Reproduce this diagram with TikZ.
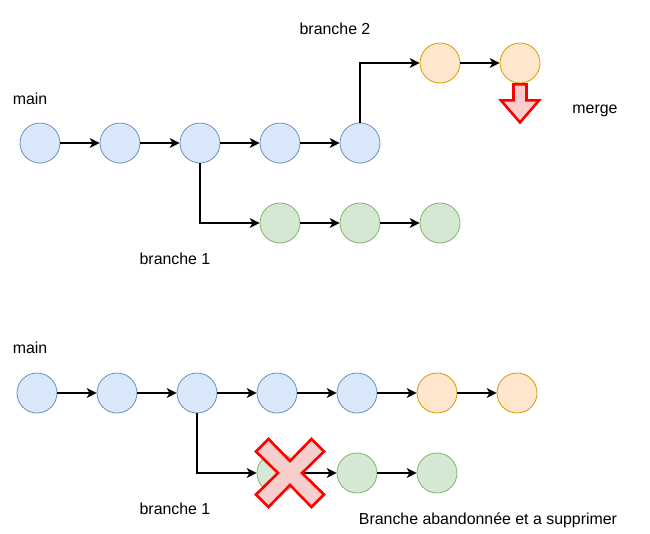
\documentclass[tikz,border=0pt]{standalone}
\usepackage{fontspec}
\setmainfont{Liberation Sans}
\usetikzlibrary{arrows.meta}
\definecolor{gitBlueFill}{HTML}{DAE8FC}
\definecolor{gitBlueLine}{HTML}{6C8EBF}
\definecolor{gitOrangeFill}{HTML}{FFE6CC}
\definecolor{gitOrangeLine}{HTML}{D79B00}
\definecolor{gitGreenFill}{HTML}{D5E8D4}
\definecolor{gitGreenLine}{HTML}{82B366}
\definecolor{gitRed}{HTML}{FF0000}
\definecolor{gitRedFill}{HTML}{F8CECC}
\tikzset{
  commit/.style   = {circle, minimum size=40pt, inner sep=0pt, line width=0.8pt},
  mainc/.style    = {commit, fill=gitBlueFill, draw=gitBlueLine},
  featc/.style    = {commit, fill=gitOrangeFill, draw=gitOrangeLine},
  fixc/.style     = {commit, fill=gitGreenFill, draw=gitGreenLine},
  link/.style     = {-{Stealth[length=10pt, width=10pt, inset=3pt]}, line width=1.3pt, black},
  lbl/.style      = {font=\fontsize{15.9}{18}\selectfont, inner sep=0pt,
                     text height=0.72em, text depth=0.2em, yshift=-3.5pt},
  warn/.style     = {draw=gitRed, fill=gitRedFill, line width=2.6pt, line join=miter},
}

\begin{document}
\begin{tikzpicture}[x=1pt, y=-1pt]
  \useasboundingbox (0,0) rectangle (650,533);

  % top: main with two branches
  \foreach \i/\x in {1/40, 2/120, 3/200, 4/280, 5/360}
    \node[mainc] (ta\i) at (\x,143) {};
  \node[featc] (tb1) at (440,63) {};
  \node[featc] (tb2) at (520,63) {};
  \foreach \i/\x in {1/280, 2/360, 3/440}
    \node[fixc] (tc\i) at (\x,223) {};

  \foreach \a/\b in {ta1/ta2, ta2/ta3, ta3/ta4, ta4/ta5, tb1/tb2, tc1/tc2, tc2/tc3}
    \draw[link] (\a) -- (\b);
  \draw[link] (ta5.north) |- (tb1.west);
  \draw[link] (ta3.south) |- (tc1.west);

  % the merge arrow
  \draw[warn, shift={(tb2.south)}]
    (-6.5,1) -- (6.5,1) -- (6.5,17) -- (19,17) -- (0,39) -- (-19,17) -- (-6.5,17) -- cycle;

  \node[lbl] (tmain) at (30,98) {main};
  \node[lbl] (tbr2) at (335,28) {branche 2};
  \node[lbl] (tmerge) at (595,107) {merge};
  \node[lbl] (tbr1) at (175,258) {branche 1};

  % bottom: branche 2 merged, branche 1 dropped
  \foreach \i/\x in {1/37, 2/117, 3/197, 4/277, 5/357}
    \node[mainc] (ba\i) at (\x,393) {};
  \node[featc] (bb1) at (437,393) {};
  \node[featc] (bb2) at (517,393) {};
  \foreach \i/\x in {1/277, 2/357, 3/437}
    \node[fixc] (bc\i) at (\x,473) {};

  \foreach \a/\b in {ba1/ba2, ba2/ba3, ba3/ba4, ba4/ba5, ba5/bb1, bb1/bb2, bc1/bc2, bc2/bc3}
    \draw[link] (\a) -- (\b);
  \draw[link] (ba3.south) |- (bc1.west);

  % the cross over the dropped commit
  \coordinate (cross) at (290,473);
  \draw[warn, shift={(cross)}]
    (-34,-21.5) -- (-21.5,-34) -- (0,-12) -- (21.5,-34) -- (34,-21.5) -- (12,0)
    -- (34,21.5) -- (21.5,34) -- (0,12) -- (-21.5,34) -- (-34,21.5) -- (-12,0) -- cycle;

  \node[lbl] (bmain) at (30,347) {main};
  \node[lbl] (bbr1) at (175,508) {branche 1};
  \node[lbl] (bnote) at (488,518) {Branche abandonnée et a supprimer};
\end{tikzpicture}
\end{document}
